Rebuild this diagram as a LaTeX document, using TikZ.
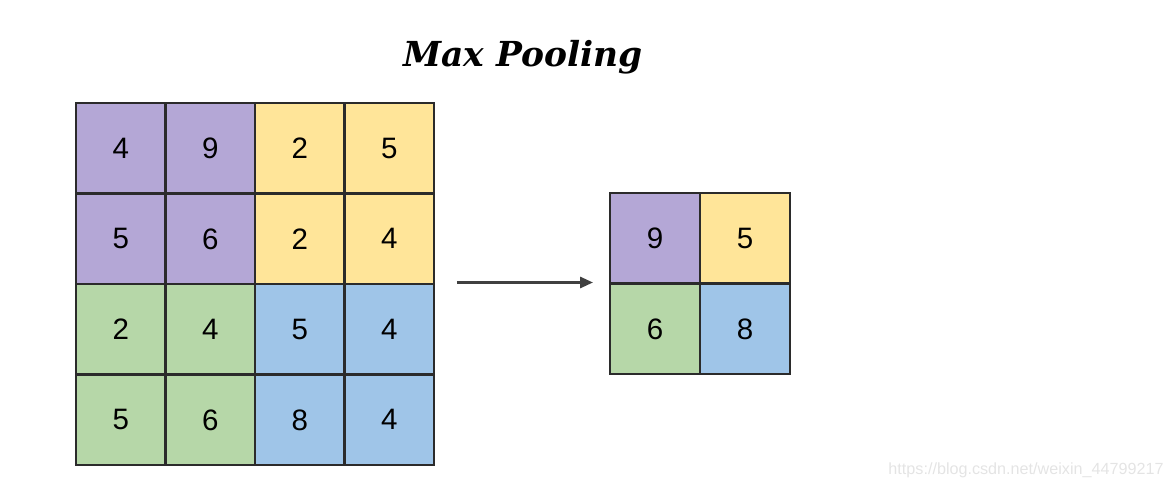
\documentclass[tikz,border=0pt]{standalone}
\usepackage{fontspec}
\setsansfont{Liberation Sans}
\newfontfamily\titlefont{DejaVu Serif}
\usetikzlibrary{positioning, arrows.meta, fit}
\definecolor{ink}{HTML}{2b2b2b}
\definecolor{lilac}{HTML}{B4A7D6}
\definecolor{butter}{HTML}{FFE599}
\definecolor{sage}{HTML}{B6D7A8}
\definecolor{sky}{HTML}{9FC5E8}
\definecolor{mark}{HTML}{E4E4E4}

\begin{document}
\begin{tikzpicture}[
  font=\sffamily,
  cell/.style={draw=ink, line width=0.7pt, minimum width=8.95mm, minimum height=9.05mm, inner sep=0pt, text depth=-0.6mm, font=\fontsize{8.4}{10}\sffamily},
  arr/.style={-{Triangle[length=1.3mm, width=1.1mm]}, line width=0.8pt, ink!90}
]
  \useasboundingbox (0,0) rectangle (11.72,4.91);

  % Title
  \node (title) at (5.23,4.34) {\titlefont\bfseries\itshape\fontsize{9.8}{12}\selectfont Max Pooling};

  % Input 4x4
  \foreach \v/\c [count=\k from 0] in {4/lilac, 9/lilac, 2/butter, 5/butter,
                                        5/lilac, 6/lilac, 2/butter, 4/butter,
                                        2/sage, 4/sage, 5/sky, 4/sky,
                                        5/sage, 6/sage, 8/sky, 4/sky} {
    \pgfmathtruncatemacro{\row}{int(\k/4)}
    \pgfmathtruncatemacro{\col}{mod(\k,4)}
    \node[cell, fill=\c] (in-\row-\col) at ({0.76+0.895*(\col+0.5)},{3.88-0.905*(\row+0.5)}) {\v};
  }

  % Output 2x2
  \foreach \v/\c [count=\k from 0] in {9/lilac, 5/butter, 6/sage, 8/sky} {
    \pgfmathtruncatemacro{\row}{int(\k/2)}
    \pgfmathtruncatemacro{\col}{mod(\k,2)}
    \node[cell, minimum width=9mm, minimum height=9.05mm, fill=\c] (out-\row-\col) at ({6.10+0.9*(\col+0.5)},{2.98-0.905*(\row+0.5)}) {\v};
  }

  \node[fit=(in-0-0)(in-3-3), inner sep=0pt] (inp) {};
  \node[fit=(out-0-0)(out-1-1), inner sep=0pt] (outp) {};
  \draw[arr, shorten <=2.1mm, shorten >=1.5mm] (inp.east |- outp) ++(0,0.01) coordinate (a0) (a0) -- (a0 -| outp.west);

  % Watermark
  \node[text=mark, font=\fontsize{4.6}{6}\sffamily] (wm) at (10.26,0.21) {https://blog.csdn.net/weixin\_44799217};
\end{tikzpicture}
\end{document}
